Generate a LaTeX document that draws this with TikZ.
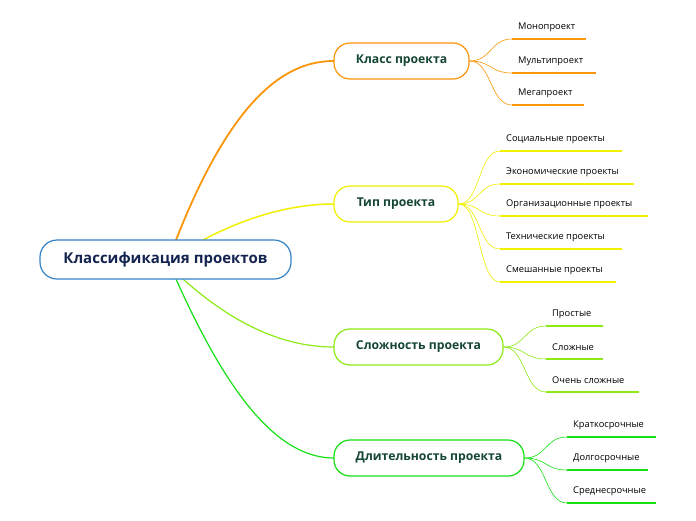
\documentclass[tikz,border=0pt]{standalone}
\usepackage{fontspec}
\setmainfont{Open Sans}
\usetikzlibrary{calc}
\definecolor{corg}{RGB}{250,150,10}
\definecolor{cyel}{RGB}{240,240,0}
\definecolor{clg}{RGB}{140,235,20}
\definecolor{cgr}{RGB}{20,225,20}
\definecolor{croot}{RGB}{50,130,200}
\definecolor{tnavy}{RGB}{20,35,80}
\definecolor{tgreen}{RGB}{20,70,50}
\newcommand{\leaf}[7]{%
  \coordinate (#1a) at (#3,#5);
  \coordinate (#1b) at (#4,#5);
  \draw[#2,line width=2pt] (#1a) -- (#1b);
  \node[leaftext] (#1t) at ($(#1a)+(6,-11.5)$) {#6};
  \draw[#2,line width=0.6pt] (#7.east) .. controls +(22,0) and +(-22,0) .. (#1a);
}
\begin{document}
\begin{tikzpicture}[x=1pt,y=-1pt,
  rootbox/.style={draw=croot,line width=1.2pt,rounded corners=17pt,minimum width=251pt,minimum height=39pt,font=\fontsize{15}{17}\selectfont\bfseries,text=tnavy,fill=white},
  childbox/.style={draw=#1,line width=1.2pt,rounded corners=16pt,minimum height=36pt,font=\fontsize{12.2}{14}\selectfont\bfseries,text=tgreen,fill=white},
  leaftext/.style={anchor=west,font=\fontsize{9.3}{11}\selectfont,text=black,inner sep=0pt}]
\useasboundingbox (0,0) rectangle (696,520);
\fill[white] (0,0) rectangle (696,520);
\coordinate (r1) at (176,240);
\coordinate (r2) at (203,240);
\coordinate (r3) at (183,279);
\coordinate (r4) at (176,279);
\draw[corg,line width=1.8pt] (r1) .. controls (235,90) and (290,61) .. (334,61);
\draw[cyel,line width=1.5pt] (r2) .. controls (250,215) and (295,204) .. (334,204);
\draw[clg,line width=1.2pt] (r3) .. controls (240,330) and (290,347) .. (334,347);
\draw[cgr,line width=1.2pt] (r4) .. controls (230,400) and (280,458) .. (334,458);
\node[rootbox] (root) at (165.5,259.5) {Классификация проектов};
\node[childbox=corg,minimum width=135pt] (c1) at (401.5,61) {Класс проекта};
\node[childbox=cyel,minimum width=124pt] (c2) at (396,204) {Тип проекта};
\node[childbox=clg,minimum width=169pt] (c3) at (418.5,347) {Сложность проекта};
\node[childbox=cgr,minimum width=190pt] (c4) at (429,458) {Длительность проекта};
\leaf{a1}{corg}{512}{586}{39}{Монопроект}{c1}
\leaf{a2}{corg}{512}{596}{73}{Мультипроект}{c1}
\leaf{a3}{corg}{512}{584}{105}{Мегапроект}{c1}
\leaf{b1}{cyel}{500}{622}{151}{Социальные проекты}{c2}
\leaf{b2}{cyel}{500}{634}{184}{Экономические проекты}{c2}
\leaf{b3}{cyel}{500}{648}{216}{Организационные проекты}{c2}
\leaf{b4}{cyel}{500}{622}{249}{Технические проекты}{c2}
\leaf{b5}{cyel}{500}{616}{282}{Смешанные проекты}{c2}
\leaf{d1}{clg}{546}{603}{326}{Простые}{c3}
\leaf{d2}{clg}{546}{603}{359}{Сложные}{c3}
\leaf{d3}{clg}{546}{639}{392}{Очень сложные}{c3}
\leaf{e1}{cgr}{567}{656}{437}{Краткосрочные}{c4}
\leaf{e2}{cgr}{567}{648}{470}{Долгосрочные}{c4}
\leaf{e3}{cgr}{567}{656}{503}{Среднесрочные}{c4}
\end{tikzpicture}
\end{document}
